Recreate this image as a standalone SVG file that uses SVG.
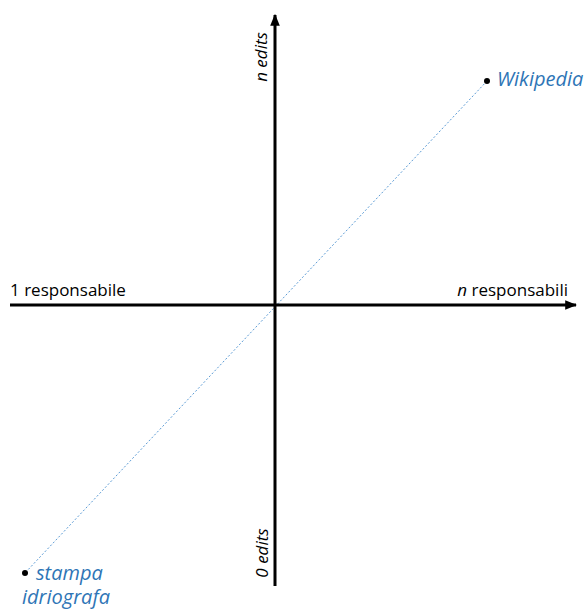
<svg xmlns="http://www.w3.org/2000/svg" width="587" height="609" viewBox="0 0 587 609">
<style>
.ax{stroke:#000;stroke-width:3;fill:none}
.lbl{font-family:"Open Sans","Liberation Sans",sans-serif;font-size:17px;fill:#000}
.blue{font-family:"Open Sans","Liberation Sans",sans-serif;font-size:20px;fill:#2e75b6;font-style:italic}
.it{font-style:italic}
</style>
<defs>
<marker id="ah" viewBox="0 0 10 10" refX="9" refY="5" markerWidth="4" markerHeight="4" orient="auto" markerUnits="strokeWidth">
<path d="M0,1 L10,5 L0,9 z" fill="#000"/>
</marker>
</defs>
<g id="connectors">
<line x1="487" y1="81" x2="25" y2="573" stroke="#5b9bd5" stroke-width="1" stroke-dasharray="2,2"/>
<line class="ax" x1="275" y1="586" x2="275" y2="15" marker-end="url(#ah)"/>
<line class="ax" x1="10" y1="305" x2="576" y2="305" marker-end="url(#ah)"/>
</g>
<g id="n-edits"><text class="lbl it" transform="translate(267,57) rotate(-90)" text-anchor="middle">n edits</text></g>
<g id="zero-edits"><text class="lbl it" transform="translate(268,553) rotate(-90)" text-anchor="middle">0 edits</text></g>
<g id="one-resp"><text class="lbl" x="10" y="296">1 responsabile</text></g>
<g id="n-resp"><text class="lbl" x="568" y="296" text-anchor="end"><tspan class="it">n</tspan> responsabili</text></g>
<g id="wikipedia"><circle cx="487" cy="81" r="3" fill="#000"/><text class="blue" x="497" y="86">Wikipedia</text></g>
<g id="stampa"><circle cx="25" cy="573" r="3" fill="#000"/><text class="blue" x="36" y="580">stampa</text><text class="blue" x="22" y="604">idriografa</text></g>
</svg>
